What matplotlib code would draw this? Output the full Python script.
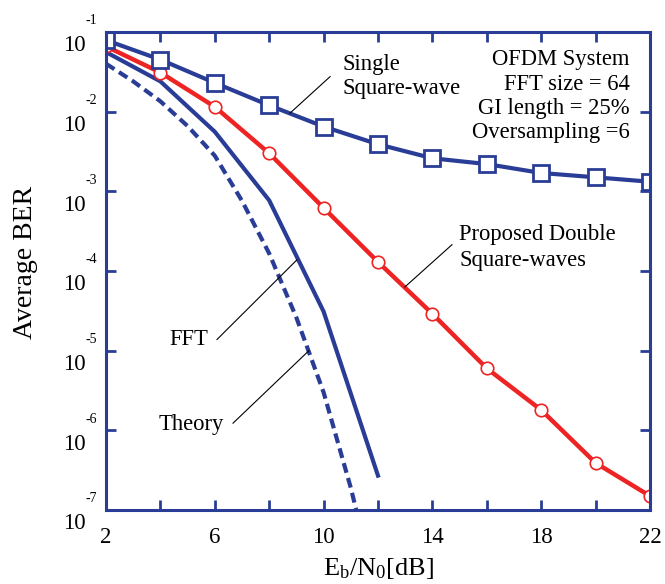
import matplotlib.pyplot as plt

plt.rcParams["font.family"] = ["Liberation Serif", "DejaVu Serif"]
plt.rcParams["mathtext.fontset"] = "custom"
plt.rcParams["mathtext.rm"] = "Liberation Serif"
plt.rcParams["mathtext.it"] = "Liberation Serif:italic"

# Eb/N0 values [dB]
ebn0 = [2, 4, 6, 8, 10, 12, 14, 16, 18, 20, 22]
single_sq = [0.079, 0.045, 0.023, 0.012, 0.0065, 0.0039, 0.0026, 0.0022, 0.0017, 0.0015, 0.00132]
double_sq = [0.066, 0.031, 0.0115, 0.0030, 6.2e-4, 1.3e-4, 2.9e-5, 6.0e-6, 1.8e-6, 3.9e-7, 1.5e-7]

ebn0_fft = [2, 4, 6, 8, 10, 12]
fft_ber = [0.056, 0.024, 0.0056, 7.7e-4, 3.1e-5, 2.7e-7]

ebn0_th = [2, 3, 4, 5, 6, 7, 8, 9, 10, 11, 11.2]
theory_ber = [0.040, 0.024, 0.0135, 0.0066, 0.0028, 7.6e-4, 1.66e-4, 2.6e-5, 3.0e-6, 1.9e-7, 1.0e-7]

xticks = [2, 4, 6, 8, 10, 12, 14, 16, 18, 20, 22]
xticklabels = ["2", "", "6", "", "10", "", "14", "", "18", "", "22"]
exps = [-1, -2, -3, -4, -5, -6, -7]

blue = "#2a3d96"
red = "#ee2424"

fig = plt.figure(figsize=(6.65, 5.84), dpi=100)
ax = fig.add_axes([0.1594, 0.1267, 0.8180, 0.8185])

ax.plot(ebn0_th, theory_ber, color=blue, lw=3, ls=(0, (2.4, 1.3)))
ax.plot(ebn0_fft, fft_ber, color=blue, lw=3)
ax.plot(ebn0, double_sq, color=red, lw=3.2, marker="o", ms=9,
        mfc="white", mec=red, mew=1.2)
ax.plot(ebn0, single_sq, color=blue, lw=3, marker="s", ms=12,
        mfc="white", mec=blue, mew=2)

ax.set_yscale("log")
ax.set_xlim(2, 22)
ax.set_ylim(1e-7, 1e-1)
ax.set_xticks(xticks)
ax.set_xticklabels(xticklabels, fontsize=16.5)
ax.set_yticks([10.0 ** e for e in exps])
ax.set_yticklabels([])
ax.minorticks_off()
ax.tick_params(direction="in", length=7, width=2, color=blue,
               top=True, right=True, pad=12)

for s in ax.spines.values():
    s.set_color(blue)
    s.set_linewidth(2.2)

# y tick labels: "10" below the tick, exponent above
for e in exps:
    ax.annotate("10", xy=(0, 10.0 ** e), xycoords=("axes fraction", "data"),
                xytext=(-14.4, -10), textcoords="offset points",
                ha="right", va="center", fontsize=16.5)
    ax.annotate(str(e), xy=(0, 10.0 ** e), xycoords=("axes fraction", "data"),
                xytext=(-6.5, 8), textcoords="offset points",
                ha="right", va="center", fontsize=10)

ax.set_xlabel(r"E$_\mathrm{b}$/N$_\mathrm{0}$[dB]", fontsize=19, labelpad=6)
fig.text(0.038, 0.551, "Average BER", rotation=90, fontsize=20,
         ha="center", va="center")

tsize = 16.3
# OFDM parameters block
ax.text(21.26, 10 ** -1.351, "OFDM System", ha="right", va="center", fontsize=tsize)
ax.text(21.26, 10 ** -1.665, "FFT size = 64", ha="right", va="center", fontsize=tsize)
ax.text(21.26, 10 ** -1.966, "GI length = 25%", ha="right", va="center", fontsize=tsize)
ax.text(21.26, 10 ** -2.267, "Oversampling =6", ha="right", va="center", fontsize=tsize)

# curve labels with leader lines
ax.text(10.71, 10 ** -1.414, "Single", ha="left", va="center", fontsize=tsize)
ax.text(10.71, 10 ** -1.703, "Square-wave", ha="left", va="center", fontsize=tsize)
ax.plot([8.76, 10.24], [10 ** -2.02, 10 ** -1.56], color="black", lw=0.8)

ax.text(14.98, 10 ** -3.547, "Proposed Double", ha="left", va="center", fontsize=tsize)
ax.text(14.98, 10 ** -3.873, "Square-waves", ha="left", va="center", fontsize=tsize)
ax.plot([12.99, 14.72], [10 ** -4.20, 10 ** -3.67], color="black", lw=0.8)

ax.text(5.75, 10 ** -4.864, "FFT", ha="right", va="center", fontsize=tsize)
ax.plot([6.08, 9.02], [10 ** -4.86, 10 ** -3.86], color="black", lw=0.8)

ax.text(6.34, 10 ** -5.93, "Theory", ha="right", va="center", fontsize=tsize)
ax.plot([6.67, 9.46], [10 ** -5.91, 10 ** -5.00], color="black", lw=0.8)

fig.savefig("out.png", dpi=100)
